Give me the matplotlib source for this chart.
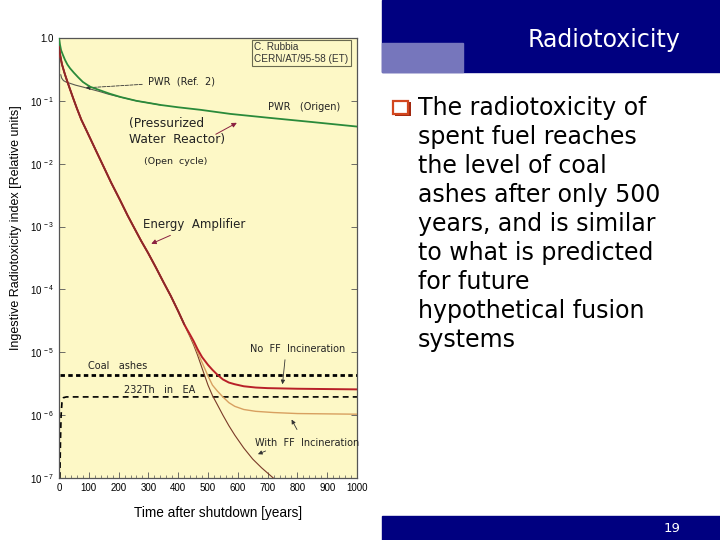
import numpy as np
import matplotlib
matplotlib.use("Agg")
import matplotlib.pyplot as plt
from matplotlib.patches import Rectangle

plt.rcParams['font.family'] = ['Liberation Sans', 'DejaVu Sans']
plt.rcParams['mathtext.default'] = 'regular'

# --- datos (tiempo en anos, indice relativo) ---
t_pwr = [0, 3, 7, 13, 20, 28, 37, 50, 65, 80, 104, 140, 170, 207, 260, 341, 400, 475,
         575, 700, 850, 1000]
v_pwr = [1.0, 0.8, 0.64, 0.54, 0.45, 0.38, 0.33, 0.28, 0.235, 0.2, 0.168, 0.146, 0.13,
         0.115, 0.1, 0.086, 0.079, 0.072, 0.062, 0.054, 0.046, 0.039]

t_ref2 = [6, 9, 15, 25, 37, 55, 80, 110, 138, 165, 195, 230, 260, 300, 340]
v_ref2 = [0.26, 0.23, 0.21, 0.198, 0.19, 0.178, 0.166, 0.152, 0.14, 0.128, 0.118, 0.108,
          0.1, 0.093, 0.086]

# tramo comun del Energy Amplifier
t_ea = [0, 5, 10, 20, 30, 47, 60, 75, 90, 104, 125, 150, 175, 205, 230, 250, 275, 299,
        325, 350, 375, 400, 420]
v_ea = [0.71, 0.5, 0.38, 0.263, 0.19, 0.112, 0.076, 0.05, 0.0355, 0.0257, 0.0158, 0.0089,
        5.0e-3, 2.63e-3, 1.51e-3, 1.0e-3, 6.0e-4, 3.8e-4, 2.24e-4, 1.32e-4, 7.9e-5,
        4.5e-5, 2.8e-5]

t_noff = [430, 440, 452, 465, 480, 500, 515, 532, 550, 570, 590, 620, 660, 700, 800, 1000]
v_noff = [2.3e-5, 1.9e-5, 1.5e-5, 1.12e-5, 8.4e-6, 6.3e-6, 5.25e-6, 4.37e-6, 3.7e-6,
          3.3e-6, 3.1e-6, 2.88e-6, 2.75e-6, 2.69e-6, 2.63e-6, 2.57e-6]

t_ff1 = [430, 440, 452, 465, 480, 500, 515, 532, 550, 570, 590, 620, 660, 720, 800, 1000]
v_ff1 = [2.25e-5, 1.83e-5, 1.4e-5, 1.0e-5, 6.9e-6, 4.2e-6, 3.0e-6, 2.4e-6, 1.95e-6,
         1.58e-6, 1.38e-6, 1.23e-6, 1.15e-6, 1.10e-6, 1.06e-6, 1.035e-6]

t_ff2 = [430, 440, 452, 465, 480, 500, 515, 532, 550, 570, 590, 620, 650, 680, 719]
v_ff2 = [2.2e-5, 1.75e-5, 1.3e-5, 9.0e-6, 5.6e-6, 3.0e-6, 2.05e-6, 1.45e-6, 1.0e-6,
         6.8e-7, 4.8e-7, 3.0e-7, 2.0e-7, 1.45e-7, 1.0e-7]

t_coal = [5, 1000]
v_coal = [4.4e-6, 4.4e-6]

t_th = [3, 5, 7, 10, 15, 25, 1000]
v_th = [1e-7, 4e-7, 1.0e-6, 1.6e-6, 1.9e-6, 1.95e-6, 1.95e-6]

yticks = [1.0, 1e-1, 1e-2, 1e-3, 1e-4, 1e-5, 1e-6, 1e-7]
ylabels = ['1.0'] + [r'$10^{\,-%d}$' % i for i in range(1, 8)]
xticks = list(range(0, 1001, 100))

bullet_lines = ["The radiotoxicity of", "spent fuel reaches", "the level of coal",
                "ashes after only 500", "years, and is similar", "to what is predicted",
                "for future", "hypothetical fusion", "systems"]

navy = '#000080'

fig = plt.figure(figsize=(7.2, 5.4), dpi=100)

# --- panel derecho (diapositiva) ---
fig.patches.append(Rectangle((382/720, 1 - 72/540), 338/720, 72/540,
                             transform=fig.transFigure, color=navy, zorder=0))
fig.patches.append(Rectangle((382/720, 1 - 72/540), 81/720, 29/540,
                             transform=fig.transFigure, color='#7676bc', zorder=1))
fig.patches.append(Rectangle((382/720, 0), 338/720, 24/540,
                             transform=fig.transFigure, color=navy, zorder=0))
fig.text(680/720, 1 - 40/540, 'Radiotoxicity', color='white', fontsize=17,
         family='DejaVu Sans', ha='right', va='center')
fig.text(680/720, 12/540, '19', color='white', fontsize=9.5, family='DejaVu Sans',
         ha='right', va='center')

# vinyeta cuadrada
fig.patches.append(Rectangle((395/720, 1 - 116/540), 16/720, 14/540,
                             transform=fig.transFigure, fc='#a02810', ec='none', zorder=2))
fig.patches.append(Rectangle((393/720, 1 - 114/540), 15/720, 13/540,
                             transform=fig.transFigure, fc='white', ec='#d2461e', lw=1.6, zorder=3))
for i, line in enumerate(bullet_lines):
    fig.text(418/720, 1 - (108 + 29 * i)/540, line, fontsize=17, family='DejaVu Sans',
             color='black', ha='left', va='center')

# --- grafico ---
ax = fig.add_axes([59/720, 1 - 478/540, 298/720, 440/540])
ax.set_facecolor('#fdf8c6')
ax.set_yscale('log')
ax.set_xlim(0, 1000)
ax.set_ylim(1e-7, 1.0)

ax.plot(t_pwr, v_pwr, color='#2a8a3a', lw=1.3, zorder=4)
ax.plot(t_ref2, v_ref2, color='#5a5a50', lw=0.8, zorder=3)
ax.plot(t_ea + t_ff2, v_ea + v_ff2, color='#7a3a28', lw=0.8, zorder=3)
ax.plot(t_ea + t_ff1, v_ea + v_ff1, color='#d8a060', lw=1.0, zorder=3)
ax.plot(t_ea + t_noff, v_ea + v_noff, color='#b82028', lw=1.4, zorder=5)
ax.plot(t_ea, v_ea, color='#8a2a2a', lw=1.2, zorder=6)
ax.plot(t_coal, v_coal, color='black', lw=2.0, ls=(0, (1.6, 1.2)), zorder=2)
ax.plot(t_th, v_th, color='black', lw=1.2, ls=(0, (3.5, 2.5)), zorder=2)

ax.set_yticks(yticks)
ax.set_yticklabels(ylabels)
ax.yaxis.set_minor_locator(matplotlib.ticker.NullLocator())
ax.set_xticks(xticks)
ax.xaxis.set_minor_locator(matplotlib.ticker.MultipleLocator(20))
ax.tick_params(axis='both', which='major', labelsize=7, direction='in', length=4,
               width=0.6, color='#555555', right=True)
ax.tick_params(axis='x', which='minor', direction='in', length=2, width=0.5, color='#555555')
for s in ax.spines.values():
    s.set_color('#555555')
    s.set_linewidth(0.9)

ax.set_xlabel('Time after shutdown [years]', fontsize=9.8)
ax.xaxis.set_label_coords(0.534, -0.064)
ax.set_ylabel('Ingestive Radiotoxicity index [Relative units]', fontsize=9)
ax.yaxis.set_label_coords(-0.125, 0.57)

ann = dict(family='DejaVu Sans', fontsize=7, color='#222222')
arr_k = dict(arrowstyle='-|>', color='#333333', lw=0.6, mutation_scale=6)
arr_r = dict(arrowstyle='-|>', color='#8a2040', lw=0.7, mutation_scale=7)

ax.text(0.655, 0.966, 'C. Rubbia\nCERN/AT/95-58 (ET)', transform=ax.transAxes, fontsize=7.2,
        va='center', ha='left', color='#333333', linespacing=1.2,
        bbox=dict(boxstyle='square,pad=0.25', fc='none', ec='#6a6a50', lw=0.8))
ax.annotate('PWR  (Ref.  2)', xy=(80, 0.16), xytext=(298, 0.2), va='center',
            arrowprops=dict(arr_k, linestyle=(0, (4, 1.5))), **ann)
ax.text(702, 0.08, 'PWR   (Origen)', va='center', **ann)
ax.text(234, 0.033, '(Pressurized\nWater  Reactor)', va='center', family='DejaVu Sans',
        fontsize=8.8, color='#222222', linespacing=1.3)
ax.text(284, 0.0108, '(Open  cycle)', va='center', family='DejaVu Sans', fontsize=6.8,
        color='#222222')
ax.annotate('', xy=(605, 0.047), xytext=(518, 0.028), arrowprops=arr_r)
ax.annotate('Energy  Amplifier', xy=(301, 5.1e-4), xytext=(281, 1.06e-3), va='center',
            family='DejaVu Sans', fontsize=8.5, color='#222222', arrowprops=arr_r)
ax.annotate('No  FF  Incineration', xy=(749, 2.8e-6), xytext=(642, 1.12e-5), va='center',
            arrowprops=dict(arr_k, relpos=(0.37, 0.0)), **ann)
ax.text(97, 6.0e-6, 'Coal   ashes', va='center', **ann)
ax.text(217, 2.5e-6, '232Th   in   EA', va='center', **ann)
ax.text(659, 3.6e-7, 'With  FF  Incineration', va='center', **ann)
ax.annotate('', xy=(776, 9.3e-7), xytext=(803, 5.4e-7), arrowprops=arr_k)
ax.annotate('', xy=(659, 2.3e-7), xytext=(702, 2.8e-7), arrowprops=arr_k)

fig.savefig('out.png', dpi=100)
